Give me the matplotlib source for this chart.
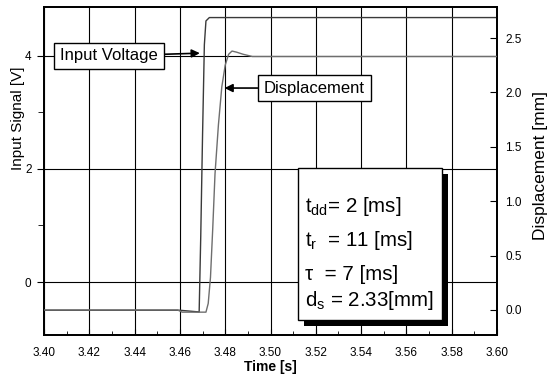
import matplotlib
matplotlib.use("Agg")
import matplotlib.pyplot as plt
from matplotlib.patches import Rectangle
import numpy as np

plt.rcParams['font.family'] = ['Liberation Sans', 'DejaVu Sans']
plt.rcParams['mathtext.fontset'] = 'custom'
plt.rcParams['mathtext.rm'] = 'Liberation Sans'
plt.rcParams['mathtext.it'] = 'Liberation Sans'
plt.rcParams['mathtext.bf'] = 'Liberation Sans:bold'

# ---- data ----
t_volt = [3.400, 3.460, 3.4685, 3.4692, 3.4700, 3.4708, 3.4715, 3.4730, 3.600]
v_volt = [-0.50, -0.50, -0.53, 0.80, 2.60, 4.20, 4.62, 4.68, 4.68]

t_disp = [3.400, 3.459, 3.461, 3.4715, 3.4725, 3.4735, 3.4745, 3.4755, 3.4770,
          3.4785, 3.4800, 3.4815, 3.4830, 3.4850, 3.4880, 3.4920, 3.600]
d_disp = [0.00, 0.00, -0.02, -0.02, 0.06, 0.30, 0.75, 1.25, 1.70,
          2.05, 2.25, 2.35, 2.38, 2.37, 2.35, 2.33, 2.33]

x_ticks = [3.40, 3.42, 3.44, 3.46, 3.48, 3.50, 3.52, 3.54, 3.56, 3.58, 3.60]
x_labels = ['3.40', '3.42', '3.44', '3.46', '3.48', '3.50', '3.52', '3.54', '3.56', '3.58', '3.60']
left_ticks = [0, 2, 4]
right_ticks = [0.0, 0.5, 1.0, 1.5, 2.0, 2.5]
right_labels = ['0.0', '0.5', '1.0', '1.5', '2.0', '2.5']

info_lines = ['t$_{dd}$= 2 [ms]', 't$_{r}$  = 11 [ms]', 'τ  = 7 [ms]', 'd$_{s}$ = 2.33[mm]']

# ---- figure ----
W, H = 552, 380
fig = plt.figure(figsize=(W / 100, H / 100), dpi=100)
L, R, T, B = 44, 497, 7, 335
ax = fig.add_axes([L / W, 1 - B / H, (R - L) / W, (B - T) / H])
ax2 = ax.twinx()

ax.plot(t_volt, v_volt, color='#3a3a3a', lw=1.0, zorder=3)
ax2.plot(t_disp, d_disp, color='#6e6e6e', lw=1.0, zorder=3)

ax.set_xlim(3.40, 3.60)
ax.set_ylim(-0.938, 4.867)
ax2.set_ylim(-0.230, 2.785)

ax.set_xticks(x_ticks)
ax.set_xticklabels(x_labels)
ax.set_xticks(np.arange(3.41, 3.60, 0.02), minor=True)
ax.set_yticks(left_ticks)
ax.set_yticks([1, 3], minor=True)
ax2.set_yticks(right_ticks)
ax2.set_yticklabels(right_labels)

ax.grid(True, which='major', color='black', lw=0.8)
ax.set_axisbelow(True)

ax.tick_params(axis='x', which='both', direction='in', labelsize=8.5, pad=9, color='black')
ax.tick_params(axis='x', which='major', length=4)
ax.tick_params(axis='x', which='minor', length=3)
ax.tick_params(axis='y', which='both', direction='out', labelsize=8.5, pad=4)
ax.tick_params(axis='y', which='major', length=5)
ax.tick_params(axis='y', which='minor', length=4)
ax2.tick_params(axis='y', direction='in', length=5, labelsize=8.5, pad=6)

for a in (ax, ax2):
    for s in a.spines.values():
        s.set_linewidth(1.3)
        s.set_color('black')

ax.set_xlabel('Time [s]', fontsize=10, fontweight='bold')
ax.xaxis.label.set_va('center')
ax.xaxis.set_label_coords(0.5, (B - 367) / (B - T))
ax.set_ylabel('Input Signal [V]', fontsize=11)
ax.yaxis.label.set_va('center')
ax.yaxis.set_label_coords((18 - L) / (R - L), (B - 118) / (B - T))
ax2.set_ylabel('Displacement [mm]', fontsize=12.5)
ax2.yaxis.label.set_va('center')
ax2.yaxis.set_label_coords((541 - L) / (R - L), (B - 165) / (B - T))

# ---- annotations ----
arrow = dict(arrowstyle='-|>', color='black', lw=1.2, mutation_scale=12, shrinkA=0, shrinkB=0)
box = dict(boxstyle='square,pad=0.35', fc='white', ec='black', lw=1.0)
ax.annotate('Input Voltage', xy=(3.4688, 4.05), xytext=(3.4287, 4.0),
            fontsize=12, ha='center', va='center', bbox=box, arrowprops=arrow, zorder=6)
ax2.annotate('Displacement', xy=(3.4797, 2.04), xytext=(3.5194, 2.04),
             fontsize=12, ha='center', va='center', bbox=box, arrowprops=arrow, zorder=6)

# ---- info box with shadow ----
bx0, bx1, by0, by1 = 298, 442, 168, 320
sh = 6
fig.add_artist(Rectangle(((bx0 + sh) / W, 1 - (by1 + sh) / H), (bx1 - bx0) / W, (by1 - by0) / H,
                         transform=fig.transFigure, fc='black', ec='black', lw=0, zorder=5))
fig.add_artist(Rectangle((bx0 / W, 1 - by1 / H), (bx1 - bx0) / W, (by1 - by0) / H,
                         transform=fig.transFigure, fc='white', ec='black', lw=1.0, zorder=6))
for txt, yc in zip(info_lines, [207, 241, 274, 300]):
    fig.text(305 / W, 1 - yc / H, txt, fontsize=14.8, ha='left', va='center', zorder=7)

fig.savefig('out.png', dpi=100)
